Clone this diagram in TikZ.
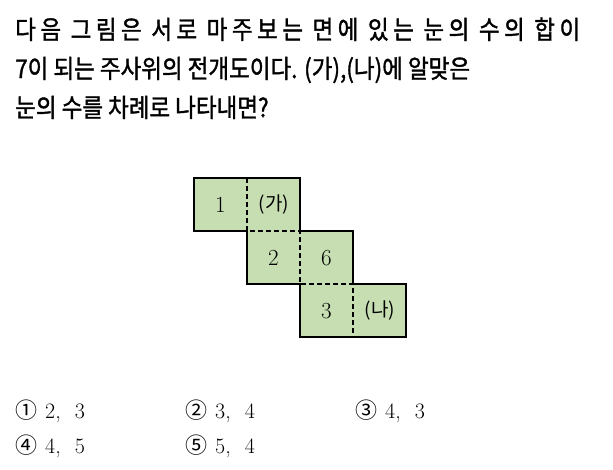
\documentclass[tikz,border=0pt]{standalone}
\usepackage{fontspec}
\newfontfamily\kr[FakeBold=1.5]{Noto Sans CJK KR}
\newfontfamily\krl{Noto Sans CJK KR}
\definecolor{facegreen}{RGB}{198,222,177}
\newcommand{\tline}[1]{\scalebox{1}[1.14]{#1}}
\newcommand{\circd}[1]{{\krl\fontsize{22}{24}\selectfont #1}\hspace{8pt}}
\begin{document}
\begin{tikzpicture}[x=1pt,y=-1pt,
  title/.style={anchor=base west,inner sep=0pt,font=\kr\fontsize{22.5}{25}\selectfont},
  num/.style={inner sep=0pt,font=\fontsize{23}{25}\selectfont},
  lbl/.style={inner sep=0pt,font=\krl\fontsize{19}{21}\selectfont},
  opt/.style={anchor=base west,inner sep=0pt,font=\fontsize{22}{24}\selectfont}]
\useasboundingbox (0,0) rectangle (613,469);
% title
\node[title] (t1) at (15,39) {\tline{\addfontfeature{LetterSpace=20}다음 그림은 서로 마주보는 면에 있는 눈의 수의 합이}};
\node[title] (t2) at (15,78) {\tline{7이 되는 주사위의 전개도이다. (가),(나)에 알맞은}};
\node[title] (t3) at (15,117) {\tline{눈의 수를 차례로 나타내면?}};
% net
\fill[facegreen] (194,178) rectangle (300,231);
\fill[facegreen] (247,231) rectangle (353,284);
\fill[facegreen] (300,284) rectangle (406,337);
\draw[line width=1.1pt,dash pattern=on 5pt off 3pt]
  (247,178) -- (247,231) -- (300,231) -- (300,284) -- (353,284) -- (353,337);
\draw[line width=2.6pt,line join=miter]
  (194,178) -- (300,178) -- (300,231) -- (353,231) -- (353,284) -- (406,284)
  -- (406,337) -- (300,337) -- (300,284) -- (247,284) -- (247,231) -- (194,231) -- cycle;
\node[num] (n1) at (220.5,205) {1};
\node[lbl] (ga) at (274,204.5) {(가)};
\node[num] (n2) at (273.5,258) {2};
\node[num] (n6) at (326.5,258) {6};
\node[num] (n3) at (326.5,311) {3};
\node[lbl] (na) at (380,310.5) {(나)};
% options
\node[opt] (o1) at (15,418) {\circd{①}2,\hspace{14pt}3};
\node[opt] (o2) at (185,418) {\circd{②}3,\hspace{14pt}4};
\node[opt] (o3) at (355,418) {\circd{③}4,\hspace{14pt}3};
\node[opt] (o4) at (15,453) {\circd{④}4,\hspace{14pt}5};
\node[opt] (o5) at (185,453) {\circd{⑤}5,\hspace{14pt}4};
\end{tikzpicture}
\end{document}
